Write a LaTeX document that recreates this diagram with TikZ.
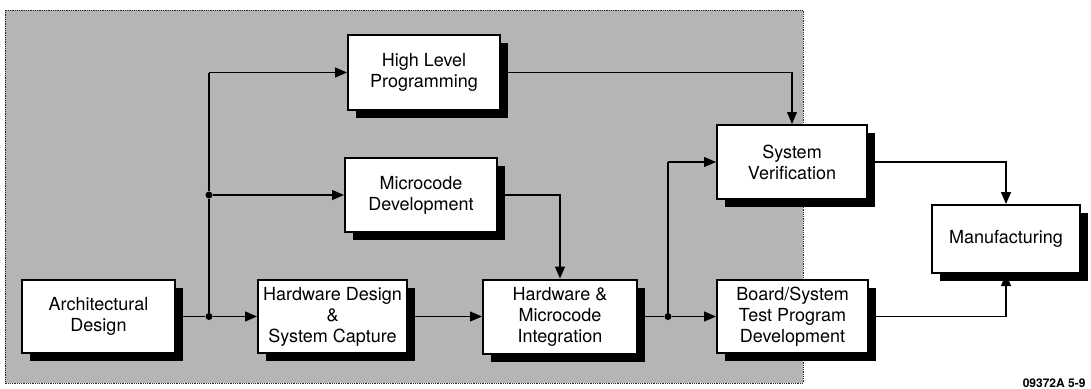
\documentclass[tikz,border=0pt]{standalone}
\usepackage{fontspec}
\setmainfont{TeX Gyre Heros}
\usetikzlibrary{arrows.meta,shadows}
\begin{document}
\begin{tikzpicture}[x=1pt,y=1pt,
  box/.style={draw=black, line width=2pt, fill=white, align=center,
    font=\fontsize{18}{21}\selectfont, inner sep=2pt,
    drop shadow={shadow xshift=8pt, shadow yshift=-8pt, fill=black, opacity=1}},
  conn/.style={line width=1.2pt, -{Triangle[length=12pt,width=10pt]}},
  plain/.style={line width=1.2pt},
  dot/.style={circle, fill=black, inner sep=0pt, minimum size=7pt}]
\useasboundingbox (0,0) rectangle (1091,-388);
\fill[white] (0,0) rectangle (1091,-388);
% shaded region
\fill[gray!58] (5,-10) rectangle (803,-383);
\draw[gray!30!black, line width=0.8pt, densely dotted] (5,-10) rectangle (803,-383);

% boxes
\node[box, minimum width=152pt, minimum height=75pt] (hlp) at (424,-72.5) {High Level\\Programming};
\node[box, minimum width=152pt, minimum height=74pt] (mcd) at (421,-195) {Microcode\\Development};
\node[box, minimum width=153pt, minimum height=73pt] (arch) at (98.5,-316.5) {Architectural\\Design};
\node[box, minimum width=149pt, minimum height=73pt] (hwd) at (332.5,-316.5) {Hardware Design\\\&\\System Capture};
\node[box, minimum width=154pt, minimum height=74pt] (hwmi) at (560,-316.5) {Hardware \&\\Microcode\\Integration};
\node[box, minimum width=150pt, minimum height=74pt] (sv) at (792,-162) {System\\Verification};
\node[box, minimum width=151pt, minimum height=73pt] (bst) at (792.5,-316.5) {Board/System\\Test Program\\Development};
\node[box, minimum width=148pt, minimum height=68pt] (mfg) at (1006,-239) {Manufacturing};

% junctions
\node[dot] (j1) at (209,-316.5) {};
\node[dot] (j2) at (209,-195) {};
\node[dot] (j3) at (668,-316.5) {};
\coordinate (c1) at (209,-72.5);
\coordinate (c2) at (668,-162);

% connectors
\draw[plain] (arch.east) -- (j1);
\draw[conn] (j1) -- (hwd.west);
\draw[plain] (j1) -- (j2);
\draw[plain] (j2) -- (c1);
\draw[conn] (c1) -- (hlp.west);
\draw[conn] (j2) -- (mcd.west);
\draw[conn] (hlp.east) -| (sv.north);
\draw[conn] (mcd.east) -| (hwmi.north);
\draw[conn] (hwd.east) -- (hwmi.west);
\draw[plain] (hwmi.east) -- (j3);
\draw[conn] (j3) -- (bst.west);
\draw[plain] (j3) -- (c2);
\draw[conn] (c2) -- (sv.west);
\draw[conn] (sv.east) -| (mfg.north);
\draw[conn] (bst.east) -| (mfg.south);

% figure id
\node[font=\fontsize{12}{13}\bfseries\selectfont, anchor=base east] (fid) at (1089,-387) {09372A 5-9};
\end{tikzpicture}
\end{document}
